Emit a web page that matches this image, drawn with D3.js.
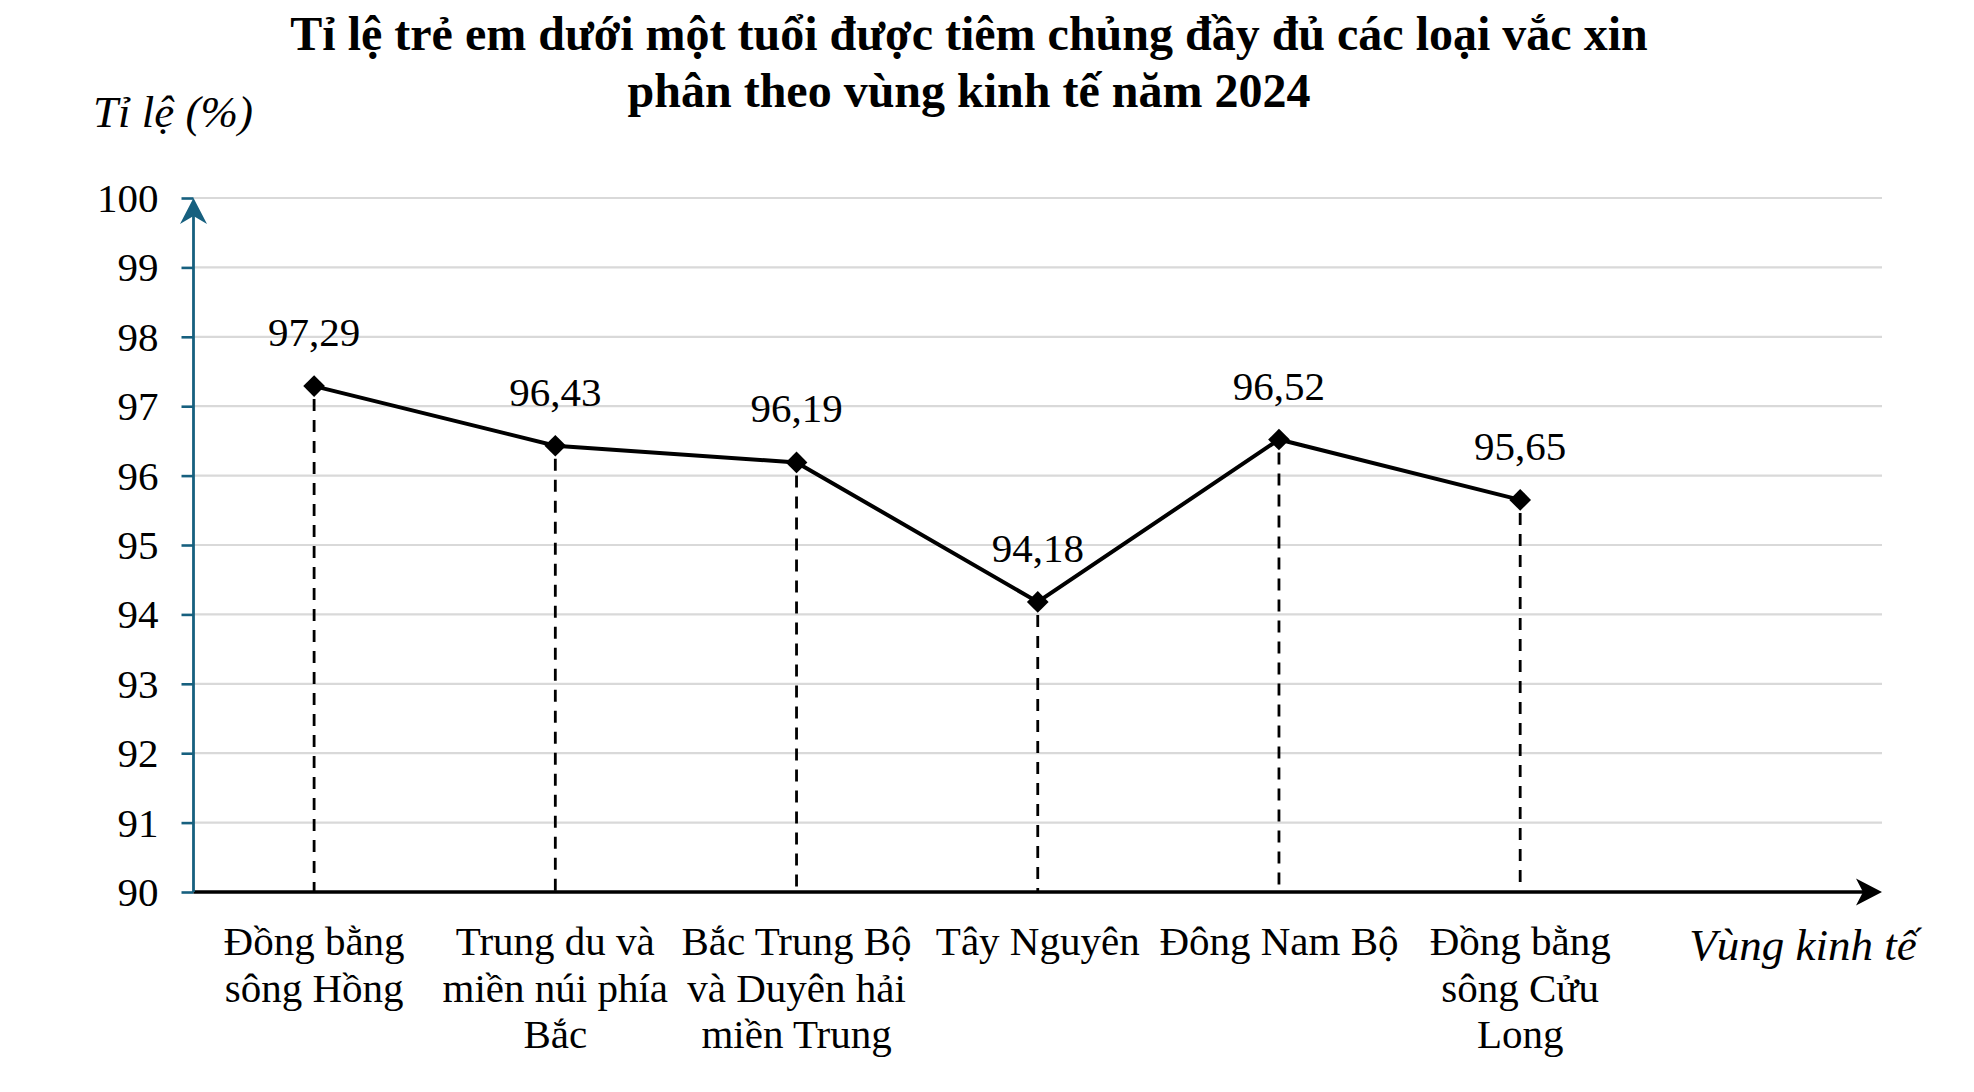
<!DOCTYPE html>
<html>
<head>
<meta charset="utf-8">
<script src="https://cdn.jsdelivr.net/npm/d3@7"></script>
<style>
  html, body { margin: 0; padding: 0; background: #ffffff; }
  svg { display: block; }
  text { font-family: "Liberation Serif", "Times New Roman", serif; fill: #000; }
</style>
</head>
<body>
<svg id="chart" width="1974" height="1092"></svg>
<script>
// ---- data ----
const categories = [
  "Đồng bằng sông Hồng",
  "Trung du và miền núi phía Bắc",
  "Bắc Trung Bộ và Duyên hải miền Trung",
  "Tây Nguyên",
  "Đông Nam Bộ",
  "Đồng bằng sông Cửu Long"
];
const categoryLines = [
  ["Đồng bằng", "sông Hồng"],
  ["Trung du và", "miền núi phía", "Bắc"],
  ["Bắc Trung Bộ", "và Duyên hải", "miền Trung"],
  ["Tây Nguyên"],
  ["Đông Nam Bộ"],
  ["Đồng bằng", "sông Cửu", "Long"]
];
const values = [97.29, 96.43, 96.19, 94.18, 96.52, 95.65];
const valueLabels = ["97,29", "96,43", "96,19", "94,18", "96,52", "95,65"];
const yTicks = [90, 91, 92, 93, 94, 95, 96, 97, 98, 99, 100];
const titleLines = [
  "Tỉ lệ trẻ em dưới một tuổi được tiêm chủng đầy đủ các loại vắc xin",
  "phân theo vùng kinh tế năm 2024"
];
const yAxisTitle = "Tỉ lệ (%)";
const xAxisTitle = "Vùng kinh tế";

(function () {
// ---- layout ----
const pLeft = 193.5, pRight = 1882, pTop = 198, pBottom = 892;
const svg = d3.select("#chart");

const y = d3.scaleLinear().domain([90, 100]).range([pBottom, pTop]);
// categories occupy 6 of 7 equal slots along the axis
const x = d3.scaleBand().domain(categories)
  .range([pLeft, pLeft + (pRight - pLeft) * 6 / 7]).paddingInner(0).paddingOuter(0);
const cx = c => x(c) + x.bandwidth() / 2;

// gridlines
svg.append("g").selectAll("line").data(yTicks.filter(t => t > 90)).join("line")
  .attr("x1", pLeft).attr("x2", pRight)
  .attr("y1", d => y(d)).attr("y2", d => y(d))
  .attr("stroke", "#d9d9d9").attr("stroke-width", 2.2);

// y axis ticks via d3 axis
const axisColor = "#17607f";
const yAxis = svg.append("g").attr("transform", `translate(${pLeft},0)`)
  .call(d3.axisLeft(y).tickValues(yTicks).tickSize(12).tickPadding(23).tickFormat(d3.format("d")));
yAxis.select(".domain").remove();
yAxis.selectAll(".tick line").attr("stroke", axisColor).attr("stroke-width", 2.6);
yAxis.selectAll(".tick text")
  .style("font-family", '"Liberation Serif", "Times New Roman", serif')
  .style("font-size", "41px").attr("fill", "#000").attr("dy", "0.33em");

// dashed drop lines
svg.append("g").selectAll("line").data(values).join("line")
  .attr("x1", (d, i) => cx(categories[i])).attr("x2", (d, i) => cx(categories[i]))
  .attr("y1", d => y(d) + 13).attr("y2", pBottom)
  .attr("stroke", "#000").attr("stroke-width", 2.8).attr("stroke-dasharray", "12,9");

// x axis line + arrow
svg.append("line").attr("x1", pLeft).attr("x2", pRight - 12).attr("y1", pBottom).attr("y2", pBottom)
  .attr("stroke", "#000").attr("stroke-width", 3.4);
svg.append("path")
  .attr("d", `M${pRight},${pBottom} L${pRight - 26},${pBottom - 13.5} L${pRight - 19},${pBottom} L${pRight - 26},${pBottom + 13.5} Z`)
  .attr("fill", "#000");

// y axis line + arrow
svg.append("line").attr("x1", pLeft).attr("x2", pLeft).attr("y1", pBottom).attr("y2", pTop + 12)
  .attr("stroke", axisColor).attr("stroke-width", 2.8);
svg.append("path")
  .attr("d", `M${pLeft},${pTop} L${pLeft + 13.5},${pTop + 26} L${pLeft},${pTop + 18} L${pLeft - 13.5},${pTop + 26} Z`)
  .attr("fill", axisColor);

// line
const line = d3.line().x((d, i) => cx(categories[i])).y(d => y(d));
svg.append("path").datum(values).attr("d", line)
  .attr("fill", "none").attr("stroke", "#000").attr("stroke-width", 4).attr("stroke-linejoin", "miter");

// diamond markers
svg.append("g").selectAll("path").data(values).join("path")
  .attr("transform", (d, i) => `translate(${cx(categories[i])},${y(d)})`)
  .attr("d", d3.symbol().type(d3.symbolDiamond2).size(300))
  .attr("fill", "#000");

// value labels
svg.append("g").selectAll("text").data(values).join("text")
  .attr("x", (d, i) => cx(categories[i])).attr("y", d => y(d) - 40)
  .attr("text-anchor", "middle").style("font-size", "41px")
  .text((d, i) => valueLabels[i]);

// category labels
const catG = svg.append("g").selectAll("text").data(categories).join("text")
  .attr("text-anchor", "middle").style("font-size", "41px");
catG.each(function (c, i) {
  d3.select(this).selectAll("tspan").data(categoryLines[i]).join("tspan")
    .attr("x", cx(c)).attr("y", (l, j) => 955 + j * 46.5).text(l => l);
});

// axis titles
svg.append("text").attr("x", 1803).attr("y", 960).attr("text-anchor", "middle")
  .style("font-size", "45px").style("font-style", "italic").text(xAxisTitle);
svg.append("text").attr("x", 173).attr("y", 127).attr("text-anchor", "middle")
  .style("font-size", "45px").style("font-style", "italic").text(yAxisTitle);

// title
svg.append("g").selectAll("text").data(titleLines).join("text")
  .attr("x", 969).attr("y", (d, i) => 50 + i * 57)
  .attr("text-anchor", "middle").style("font-size", "48px").style("font-weight", "bold")
  .text(d => d);
})();
</script>
</body>
</html>
